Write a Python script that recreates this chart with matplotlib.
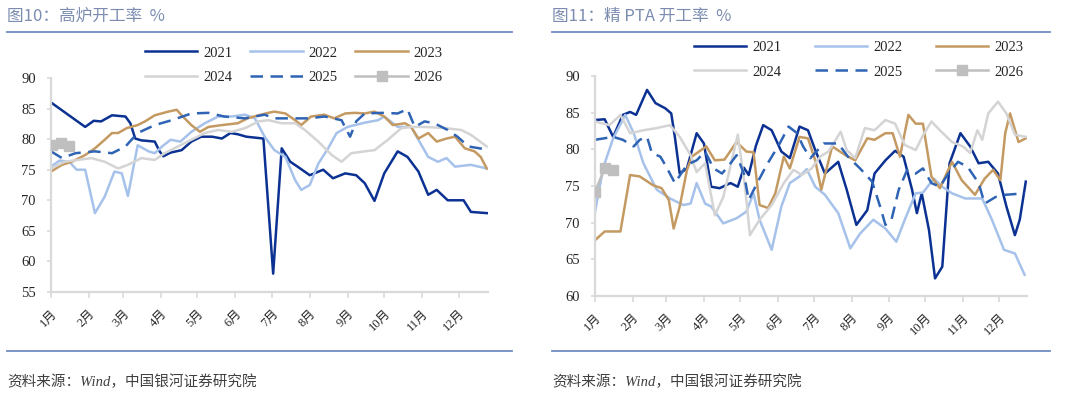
import matplotlib
matplotlib.use("Agg")
import matplotlib.pyplot as plt
from matplotlib.lines import Line2D

# ---- data: x = day of year, y = utilisation rate (%) ----
month_days = [0, 31, 59, 90, 120, 151, 181, 212, 243, 273, 304, 334]
month_labels = ["1月", "2月", "3月", "4月", "5月", "6月", "7月", "8月", "9月", "10月", "11月", "12月"]
years = ["2021", "2022", "2023", "2024", "2025", "2026"]

# blast furnace (left)
bf_2021_day = [0, 28, 35, 41, 50, 61, 65, 69, 74, 85, 89, 92, 98, 107, 115, 123, 132, 140, 147, 153, 160, 174,
               182, 189, 196, 202, 212, 223, 231, 241, 250, 257, 265, 273, 284, 292, 301, 309, 316, 325, 338, 344, 357]
bf_2021_val = [86.0, 82.0, 83.0, 82.9, 83.9, 83.7, 82.6, 80.1, 79.8, 79.6, 78.0, 77.2, 77.8, 78.2, 79.6, 80.4, 80.4,
               80.1, 81.0, 80.8, 80.4, 80.1, 58.0, 78.5, 76.3, 75.5, 74.1, 75.0, 73.6, 74.4, 74.1, 72.8, 69.9, 74.4,
               78.0, 77.1, 74.7, 70.9, 71.7, 70.0, 70.0, 68.1, 67.9]
bf_2022_day = [0, 7, 15, 21, 28, 36, 44, 52, 58, 63, 71, 80, 85, 91, 98, 106, 115, 126, 137, 148, 159, 167, 175,
               183, 192, 200, 205, 212, 219, 227, 234, 243, 257, 268, 273, 284, 295, 301, 309, 317, 324, 331, 344, 357]
bf_2022_val = [75.5, 76.5, 76.3, 75.0, 75.0, 67.9, 70.6, 74.7, 74.4, 70.7, 79.0, 78.0, 77.7, 78.8, 79.9, 79.6, 81.2,
               82.6, 83.7, 83.7, 84.0, 83.4, 80.4, 78.2, 77.1, 73.3, 71.7, 72.5, 76.0, 78.5, 81.0, 82.0, 82.7, 83.1,
               83.7, 82.0, 82.0, 79.9, 77.1, 76.3, 76.9, 75.5, 75.8, 75.2]
bf_2023_day = [0, 9, 17, 28, 36, 44, 50, 55, 62, 71, 77, 85, 96, 103, 107, 115, 122, 129, 140, 153, 161, 170, 178,
               183, 192, 200, 205, 213, 224, 232, 241, 249, 257, 265, 273, 280, 290, 295, 301, 309, 316, 324, 331,
               339, 347, 352, 357]
bf_2023_val = [74.7, 75.8, 76.3, 77.4, 78.5, 79.9, 81.0, 81.0, 81.8, 82.3, 82.9, 83.9, 84.5, 84.8, 83.9, 82.3, 81.2,
               82.0, 82.3, 82.6, 83.4, 83.9, 84.3, 84.5, 84.2, 83.1, 82.3, 83.7, 84.0, 83.4, 84.2, 84.3, 84.2, 84.5,
               83.7, 82.3, 82.6, 82.0, 80.1, 81.0, 79.6, 80.1, 80.4, 78.5, 78.0, 77.1, 75.2]
bf_2024_day = [0, 11, 22, 33, 44, 55, 63, 74, 85, 93, 104, 115, 126, 137, 148, 159, 170, 178, 189, 200, 208, 219,
               230, 238, 246, 257, 265, 276, 287, 295, 306, 323, 336, 344, 357]
bf_2024_val = [75.2, 76.3, 76.6, 76.9, 76.3, 75.2, 75.8, 76.9, 76.6, 77.7, 78.8, 79.9, 81.0, 81.5, 81.2, 81.8, 82.9,
               83.1, 82.6, 82.6, 81.5, 79.6, 77.4, 76.3, 77.7, 78.0, 78.2, 79.9, 81.8, 82.0, 82.0, 81.8, 81.5, 80.7,
               78.8]
bf_2025_day = [0, 9, 20, 36, 50, 61, 71, 85, 99, 115, 129, 142, 159, 175, 183, 197, 211, 224, 238, 245, 250, 257,
               271, 284, 292, 298, 306, 314, 325, 333, 342, 357]
bf_2025_val = [78.0, 76.9, 77.7, 78.0, 77.7, 78.8, 81.0, 82.3, 83.1, 84.2, 84.3, 83.7, 83.4, 84.0, 83.4, 83.4, 83.4,
               83.7, 83.1, 80.4, 82.9, 84.2, 84.3, 84.2, 84.9, 82.0, 82.9, 82.6, 81.5, 80.4, 78.8, 78.3]
bf_2026_day = [1, 8, 15]
bf_2026_val = [79.0, 79.4, 78.9]

# PTA (right)
pta_2021_day = [0, 8, 15, 23, 29, 34, 43, 50, 58, 63, 66, 70, 76, 84, 90, 96, 103, 112, 118, 123, 127, 133, 139,
                146, 154, 161, 169, 176, 182, 190, 201, 208, 216, 225, 231, 240, 248, 255, 262, 266, 270, 276, 281,
                287, 293, 302, 310, 317, 325, 333, 340, 347, 351, 356]
pta_2021_val = [84.0, 84.1, 81.7, 84.7, 85.1, 84.7, 88.1, 86.3, 85.6, 84.9, 81.7, 76.7, 77.4, 82.2, 80.8, 74.9, 74.7,
                75.4, 74.9, 77.5, 76.5, 80.5, 83.3, 82.6, 79.7, 78.8, 83.1, 82.6, 79.9, 76.7, 78.3, 74.5, 69.7, 71.7,
                76.7, 78.5, 79.8, 79.0, 74.5, 71.3, 74.0, 69.0, 62.4, 64.0, 78.1, 82.2, 80.4, 78.1, 78.3, 76.7, 72.2,
                68.3, 70.4, 75.6]
pta_2022_day = [0, 7, 15, 25, 32, 40, 51, 62, 73, 79, 84, 91, 96, 106, 117, 125, 131, 136, 146, 154, 161, 169, 175,
                182, 190, 201, 211, 219, 230, 240, 249, 256, 265, 271, 280, 287, 295, 306, 320, 328, 338, 347, 355]
pta_2022_val = [71.5, 77.6, 81.5, 84.7, 82.2, 78.1, 74.5, 73.3, 72.4, 72.6, 75.4, 72.6, 72.2, 69.9, 70.6, 71.5, 74.0,
                70.4, 66.3, 72.2, 75.4, 76.3, 77.3, 74.9, 73.8, 71.3, 66.5, 68.5, 70.4, 69.2, 67.4, 70.4, 74.0, 74.1,
                76.0, 74.9, 74.0, 73.3, 73.3, 70.4, 66.3, 65.8, 62.9]
pta_2023_day = [0, 8, 21, 29, 37, 48, 55, 61, 65, 70, 76, 80, 92, 99, 107, 117, 125, 131, 136, 143, 149, 156, 161,
                169, 176, 182, 187, 196, 207, 215, 225, 231, 240, 246, 252, 259, 265, 271, 278, 285, 295, 303, 314,
                322, 329, 335, 339, 343, 350, 356]
pta_2023_val = [67.6, 68.8, 68.8, 76.5, 76.3, 75.1, 74.7, 73.1, 69.2, 72.2, 77.2, 79.0, 80.4, 78.5, 78.6, 81.0, 79.7,
                79.6, 72.4, 72.0, 74.0, 79.0, 77.4, 81.7, 81.5, 78.5, 74.5, 80.4, 79.2, 78.5, 81.5, 81.3, 82.2, 82.2,
                79.0, 84.7, 83.5, 83.5, 76.3, 74.7, 78.3, 75.8, 73.8, 76.0, 77.2, 75.8, 82.2, 84.9, 81.0, 81.5]
pta_2024_day = [0, 12, 21, 29, 40, 51, 62, 70, 79, 84, 91, 99, 106, 118, 124, 128, 136, 146, 156, 164, 171, 179,
                186, 193, 203, 208, 215, 223, 231, 240, 248, 256, 265, 271, 278, 285, 295, 304, 310, 316, 320, 325,
                333, 340, 347, 356]
pta_2024_val = [83.8, 83.3, 84.7, 82.2, 82.6, 82.9, 83.3, 81.7, 79.2, 76.9, 78.1, 71.0, 73.5, 82.0, 74.9, 68.3, 70.4,
                72.4, 75.4, 77.2, 76.5, 77.4, 79.0, 79.7, 82.4, 79.9, 78.8, 82.9, 82.6, 84.0, 83.5, 80.6, 79.9, 81.9,
                83.8, 82.6, 81.0, 80.4, 79.5, 82.6, 81.3, 84.9, 86.5, 84.9, 82.0, 81.7]
pta_2025_day = [0, 15, 23, 32, 37, 43, 47, 54, 59, 66, 76, 84, 91, 98, 105, 112, 117, 123, 127, 134, 142, 152, 160,
                167, 172, 178, 189, 201, 209, 219, 229, 236, 240, 245, 251, 258, 265, 271, 278, 285, 292, 300, 308,
                317, 322, 331, 339, 355]
pta_2025_val = [81.3, 81.7, 81.3, 80.4, 81.3, 81.7, 79.5, 79.0, 77.6, 75.4, 77.9, 78.5, 79.7, 77.4, 76.7, 78.1, 79.2,
                76.7, 73.1, 75.4, 77.9, 80.6, 83.1, 82.2, 80.4, 78.8, 80.8, 80.8, 79.0, 77.4, 75.6, 72.0, 69.7, 70.4,
                74.5, 77.2, 76.7, 77.4, 75.4, 74.9, 76.7, 78.3, 77.6, 75.4, 72.6, 73.5, 73.8, 74.0]
pta_2026_day = [0, 8, 15]
pta_2026_val = [74.2, 77.4, 77.2]

# ---- styling ----
cjk = ["Noto Sans CJK SC", "DejaVu Sans"]
serif = ["Liberation Serif", "Noto Sans CJK SC"]
styles = {
    "2021": dict(color="#0b3192", lw=1.8),
    "2022": dict(color="#a6c2ea", lw=1.8),
    "2023": dict(color="#c49a62", lw=1.8),
    "2024": dict(color="#d4d4d4", lw=1.8),
    "2025": dict(color="#2f64b5", lw=1.8, dashes=(5, 3)),
    "2026": dict(color="#bfbfbf", lw=1.8, marker="s", ms=7.5, zorder=5),
}
axis_grey = "#d9d9d9"
text_col = "#262626"
rule_col = "#6f8cc4"

fig = plt.figure(figsize=(10.8, 3.97), dpi=100)


def draw_panel(ax, series, ylim, yticks, xmax):
    for yr, (d, v) in zip(years, series):
        ax.plot(d, v, label=yr, **styles[yr])
    ax.set_xlim(0, xmax)
    ax.set_ylim(*ylim)
    ax.set_yticks(yticks)
    ax.set_xticks(month_days)
    ax.set_xticklabels(month_labels, rotation=45, ha="right", va="top", rotation_mode="anchor")
    for s in ["top", "right"]:
        ax.spines[s].set_visible(False)
    for s in ["left", "bottom"]:
        ax.spines[s].set_color(axis_grey)
        ax.spines[s].set_linewidth(1.6)
    ax.tick_params(axis="y", length=3, width=1.2, color=axis_grey, pad=8, labelsize=10.5, labelcolor=text_col)
    ax.tick_params(axis="x", length=4, width=1.2, color=axis_grey, pad=7, labelsize=9, labelcolor=text_col)
    for lab in ax.get_xticklabels() + ax.get_yticklabels():
        lab.set_family(serif)
    ax.patch.set_alpha(0)


ax1 = fig.add_axes([51 / 1080, 1 - 292 / 397, 437 / 1080, 214 / 397])
draw_panel(ax1, [(bf_2021_day, bf_2021_val), (bf_2022_day, bf_2022_val), (bf_2023_day, bf_2023_val),
                 (bf_2024_day, bf_2024_val), (bf_2025_day, bf_2025_val), (bf_2026_day, bf_2026_val)],
           (55, 90), range(55, 91, 5), 358)

ax2 = fig.add_axes([595 / 1080, 1 - 296 / 397, 432 / 1080, 220 / 397])
draw_panel(ax2, [(pta_2021_day, pta_2021_val), (pta_2022_day, pta_2022_val), (pta_2023_day, pta_2023_val),
                 (pta_2024_day, pta_2024_val), (pta_2025_day, pta_2025_val), (pta_2026_day, pta_2026_val)],
           (60, 90), range(60, 91, 5), 357)

# legend filled row by row: 2021 2022 2023 / 2024 2025 2026
order = [0, 3, 1, 4, 2, 5]
for ax, anchor, colsp in [(ax1, (0.215, 1.148), 1.22), (ax2, (0.229, 1.158), 2.3)]:
    h, l = ax.get_legend_handles_labels()
    leg = ax.legend([h[i] for i in order], [l[i] for i in order], ncol=3, loc="upper left",
                    bbox_to_anchor=anchor, frameon=False, borderpad=0, borderaxespad=0, handlelength=3.6,
                    handletextpad=0.4, columnspacing=colsp, labelspacing=0.75,
                    prop={"family": serif, "size": 10.5})
    for t in leg.get_texts():
        t.set_color(text_col)

# titles, rules and source notes
for x0, x1, title in [(7, 512, "图10：高炉开工率  %"), (552, 1050, "图11：精 PTA 开工率  %")]:
    fig.text(x0 / 1080, 1 - 16 / 397, title, family=cjk, fontsize=12, color="#7b8cb0", va="center", ha="left")
    for yy in (32, 351):
        fig.add_artist(Line2D([x0 / 1080, x1 / 1080], [1 - yy / 397] * 2, transform=fig.transFigure,
                              color=rule_col, lw=1.3))
    fig.text(x0 / 1080, 1 - 382 / 397, "资料来源：Wind，中国银河证券研究院", family=serif, style="italic",
             fontsize=10.5, color="#404040", va="center", ha="left")

fig.savefig("out.png", dpi=100)
